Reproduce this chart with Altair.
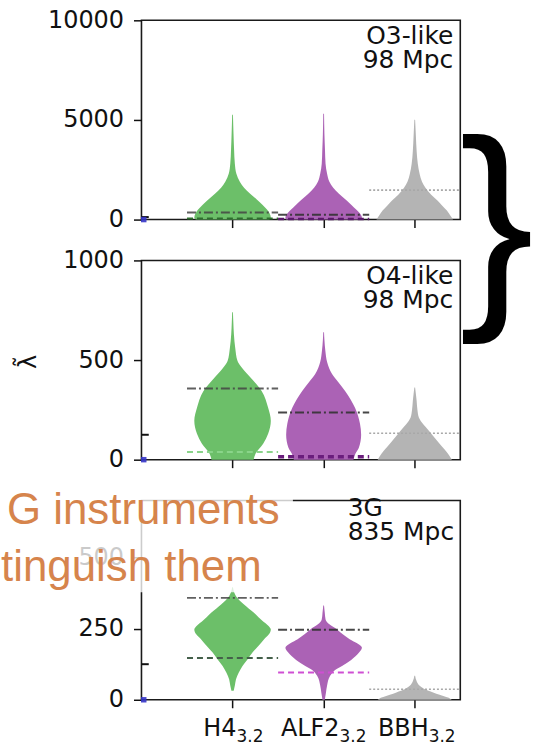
import altair as alt
import pandas as pd

# ---------------------------------------------------------------- data
EOS = ["H4", "ALF2", "BBH"]
POSITIONS = [1, 2, 3]
SUBSCRIPT = "3.2"

PANEL_NAMES = ["O3-like", "O4-like", "3G"]
PANEL_DISTANCES = ["98 Mpc", "98 Mpc", "835 Mpc"]
Y_MAX = [10000, 1000, 700]
Y_TICKS = [[0, 5000, 10000], [0, 500, 1000], [0, 250, 500]]

# Violin outlines: Lambda-tilde levels and relative half-width at each level
O3_H4_LAM = [0, 100, 300, 500, 750, 1000, 1300, 1600, 1900, 2300, 2800, 3500, 4300, 5260]
O3_H4_WID = [0.96, 1.0, 0.97, 0.9, 0.78, 0.64, 0.46, 0.3, 0.19, 0.1, 0.06, 0.04, 0.025, 0.01]
O3_ALF2_LAM = [0, 100, 300, 500, 750, 1000, 1300, 1600, 1900, 2300, 2800, 3500, 4300, 5310]
O3_ALF2_WID = [0.98, 1.0, 0.95, 0.85, 0.72, 0.58, 0.4, 0.25, 0.15, 0.09, 0.05, 0.035, 0.02, 0.01]
O3_BBH_LAM = [0, 200, 450, 700, 950, 1250, 1600, 1900, 2270, 2800, 3430, 4200, 5010]
O3_BBH_WID = [1.0, 0.93, 0.84, 0.72, 0.6, 0.43, 0.28, 0.19, 0.13, 0.08, 0.05, 0.03, 0.01]

O4_H4_LAM = [0, 30, 80, 130, 195, 260, 345, 410, 460, 495, 560, 630, 690, 740]
O4_H4_WID = [0.55, 0.6, 0.8, 0.93, 1.0, 0.93, 0.76, 0.48, 0.25, 0.13, 0.07, 0.035, 0.02, 0.01]
O4_ALF2_LAM = [0, 30, 60, 125, 180, 260, 345, 390, 430, 490, 545, 600, 640]
O4_ALF2_WID = [0.78, 0.83, 0.92, 0.98, 0.95, 0.82, 0.56, 0.38, 0.22, 0.09, 0.045, 0.02, 0.01]
O4_BBH_LAM = [0, 30, 80, 145, 210, 250, 295, 330, 362]
O4_BBH_WID = [0.97, 0.87, 0.65, 0.37, 0.11, 0.07, 0.05, 0.03, 0.01]

G3_H4_LAM = [32, 50, 72, 95, 119, 140, 166, 190, 212, 230, 247, 262, 275, 306, 335, 364, 395]
G3_H4_WID = [0.03, 0.06, 0.09, 0.16, 0.26, 0.38, 0.52, 0.68, 0.82, 0.95, 1.0, 0.92, 0.8, 0.56, 0.3, 0.09, 0.01]
G3_ALF2_LAM = [0, 25, 50, 84, 105, 119, 140, 165, 183, 200, 212, 230, 247, 265, 282, 305, 331]
G3_ALF2_WID = [0.03, 0.06, 0.09, 0.17, 0.3, 0.48, 0.72, 0.92, 1.0, 0.85, 0.69, 0.5, 0.35, 0.15, 0.05, 0.03, 0.01]
G3_BBH_LAM = [0, 8, 18, 26, 38, 49, 65, 84]
G3_BBH_WID = [0.97, 0.87, 0.65, 0.48, 0.25, 0.13, 0.05, 0.01]

# Horizontal reference levels per panel (O3-like, O4-like, 3G)
INJECTED_H4 = [357, 357, 358]
INJECTED_ALF2 = [237, 237, 246]
LOWER_H4 = [60, 38, 147]
LOWER_ALF2 = [25, 15, 96]
UPPER_BBH = [1480, 133, 37]
MARKER_LAMBDA = 125

CAPTION_TOP = "G instruments"
CAPTION_BOTTOM = "tinguish them"
BRACE = "}"
Y_TITLE = "λ̃"

# ---------------------------------------------------------------- style
W, H = 320, 200
GAP = 41
LEFT = 141                   # distance from the page edge to the plot areas
HALF = 0.42                  # max half-width of a violin, in x units
SPAN = 0.5                   # half-length of the reference lines
FILL = ["#6cbf69", "#ab62b5", "#b4b4b4"]
TICK_FONT = "DejaVu Sans"
ORANGE = "#d6844c"

PROFILES = [
    [(O3_H4_LAM, O3_H4_WID), (O3_ALF2_LAM, O3_ALF2_WID), (O3_BBH_LAM, O3_BBH_WID)],
    [(O4_H4_LAM, O4_H4_WID), (O4_ALF2_LAM, O4_ALF2_WID), (O4_BBH_LAM, O4_BBH_WID)],
    [(G3_H4_LAM, G3_H4_WID), (G3_ALF2_LAM, G3_ALF2_WID), (G3_BBH_LAM, G3_BBH_WID)],
]

# colour of the dashed lower-bound lines differs per panel
LOWER_H4_COLOR = ["#2e6e2e", "#8ad48a", "#44604a"]
LOWER_ALF2_COLOR = ["#5a1a6a", "#6a1d7c", "#cf4fd3"]
LOWER_ALF2_WIDTH = [2.5, 3.5, 2]

LABEL_SHIFT = {"H4": 4, "ALF2": 16, "BBH": 14}

xs = alt.Scale(domain=[0, 3.5], nice=False, zero=False)


def x_axis():
    return alt.Axis(values=POSITIONS, labels=False, ticks=True, tickSize=8,
                    tickWidth=1.5, tickColor="#111", domain=False, grid=False,
                    title=None)


def y_axis(i):
    return alt.Axis(values=Y_TICKS[i], format="d", labelFont=TICK_FONT,
                    labelFontSize=24, labelColor="#111", tickSize=8,
                    tickWidth=1.5, tickColor="#111", labelPadding=10,
                    domain=False, grid=False, title=None)


def panel(i):
    ys = alt.Scale(domain=[0, Y_MAX[i]], nice=False, zero=True)
    yenc = lambda f: alt.Y(f, type="quantitative", scale=ys, axis=y_axis(i))
    xenc = lambda f: alt.X(f, type="quantitative", scale=xs, axis=x_axis())

    rows = []
    for eos, pos, (lam, wid) in zip(EOS, POSITIONS, PROFILES[i]):
        for k, (l, w) in enumerate(zip(lam, wid)):
            rows.append({"eos": eos, "lam": l, "left": pos - HALF * w,
                         "right": pos + HALF * w, "k": k})
    vdf = pd.DataFrame(rows)

    violins = alt.Chart(vdf).mark_area(
        orient="horizontal", interpolate="monotone", opacity=1
    ).encode(
        y=yenc("lam"),
        x=alt.X("left", type="quantitative", scale=xs, axis=x_axis(), stack=None),
        x2="right",
        color=alt.Color("eos:N", scale=alt.Scale(domain=EOS, range=FILL), legend=None),
        detail="eos:N",
    )

    def ref_line(pos, value, color, dash, width, opacity=1.0):
        df = pd.DataFrame({"x1": [pos - SPAN], "x2": [pos + SPAN], "v": [value]})
        return alt.Chart(df).mark_rule(
            color=color, strokeDash=dash, strokeWidth=width, opacity=opacity
        ).encode(x=xenc("x1"), x2="x2", y=yenc("v"))

    layers = [violins]
    layers.append(ref_line(POSITIONS[0], LOWER_H4[i], LOWER_H4_COLOR[i], [6, 4], 2))
    layers.append(ref_line(POSITIONS[1], LOWER_ALF2[i], LOWER_ALF2_COLOR[i], [6, 4],
                           LOWER_ALF2_WIDTH[i]))
    layers.append(ref_line(POSITIONS[0], INJECTED_H4[i], "#444", [9, 3, 2, 3], 2, 0.85))
    layers.append(ref_line(POSITIONS[1], INJECTED_ALF2[i], "#333", [9, 3, 2, 3], 2, 0.9))
    layers.append(ref_line(POSITIONS[2], UPPER_BBH[i], "#a8a8a8", [2, 2], 1.6))

    # small markers at the left edge
    mdf = pd.DataFrame({"x1": [0], "x2": [0.08], "v": [MARKER_LAMBDA]})
    layers.append(alt.Chart(mdf).mark_rule(color="#111", strokeWidth=2).encode(
        x=xenc("x1"), x2="x2", y=yenc("v")))
    sdf = pd.DataFrame({"x": [0.025], "v": [0]})
    layers.append(alt.Chart(sdf).mark_square(color="#3535c8", size=30, opacity=0.9).encode(
        x=xenc("x"), y=yenc("v")))

    # panel annotation
    adf = pd.DataFrame({"t": [PANEL_NAMES[i] + "\n" + PANEL_DISTANCES[i]]})
    if i < 2:
        ann = alt.Chart(adf).mark_text(
            align="right", baseline="alphabetic", font=TICK_FONT, fontSize=25,
            lineHeight=24, color="#111", lineBreak="\n"
        ).encode(x=alt.value(313), y=alt.value(24), text="t:N")
    else:
        ann = alt.Chart(adf).mark_text(
            align="left", baseline="alphabetic", font=TICK_FONT, fontSize=25,
            lineHeight=24, color="#111", lineBreak="\n"
        ).encode(x=alt.value(207), y=alt.value(16), text="t:N")
    layers.append(ann)

    if i == 0:
        bdf = pd.DataFrame({"t": [BRACE]})
        layers.append(alt.Chart(bdf).mark_text(
            align="right", baseline="alphabetic", font="Liberation Sans",
            fontSize=225, color="#000"
        ).encode(x=alt.value(394), y=alt.value(278), text="t:N"))

    if i == 1:
        tdf = pd.DataFrame({"t": [Y_TITLE]})
        layers.append(alt.Chart(tdf).mark_text(
            angle=270, align="center", baseline="middle", font=TICK_FONT,
            fontSize=24, color="#111"
        ).encode(x=alt.value(-113), y=alt.value(102), text="t:N"))

    if i == 2:
        # category labels with subscripts
        ldf = pd.DataFrame({"eos": EOS, "pos": POSITIONS, "sub": [SUBSCRIPT] * 3})
        for eos in EOS:
            one = ldf[ldf.eos == eos]
            layers.append(alt.Chart(one).mark_text(
                align="right", baseline="alphabetic", font=TICK_FONT,
                fontSize=24, color="#111", dx=LABEL_SHIFT[eos]
            ).encode(x=xenc("pos"), y=alt.value(236), text="eos:N"))
            layers.append(alt.Chart(one).mark_text(
                align="left", baseline="alphabetic", font=TICK_FONT,
                fontSize=17, color="#111", dx=LABEL_SHIFT[eos]
            ).encode(x=xenc("pos"), y=alt.value(242), text="sub:N"))

        # slide caption with its translucent backing
        rdf = pd.DataFrame({"a": [0]})
        layers.append(alt.Chart(rdf).mark_rect(color="white", opacity=0.78).encode(
            x=alt.value(-LEFT), x2=alt.value(152), y=alt.value(-23), y2=alt.value(92)))
        for text, x0, y0 in [(CAPTION_TOP, -LEFT + 6, 24), (CAPTION_BOTTOM, -LEFT, 81)]:
            layers.append(alt.Chart(pd.DataFrame({"t": [text]})).mark_text(
                align="left", baseline="alphabetic", font="Liberation Sans",
                fontSize=44, color=ORANGE
            ).encode(x=alt.value(x0), y=alt.value(y0), text="t:N"))

    return alt.layer(*layers).properties(width=W, height=H)


# Panels are stacked by their plot areas so the gaps stay fixed.
chart = alt.vconcat(panel(0), panel(1), panel(2), spacing=GAP, bounds="flush").properties(
    padding={"left": 0, "top": 6, "right": 0, "bottom": 0},
    background="white",
).configure_view(stroke="#1a1a1a", strokeWidth=1.6)

chart.save("out.html", embed_options={"renderer": "svg", "actions": False})
